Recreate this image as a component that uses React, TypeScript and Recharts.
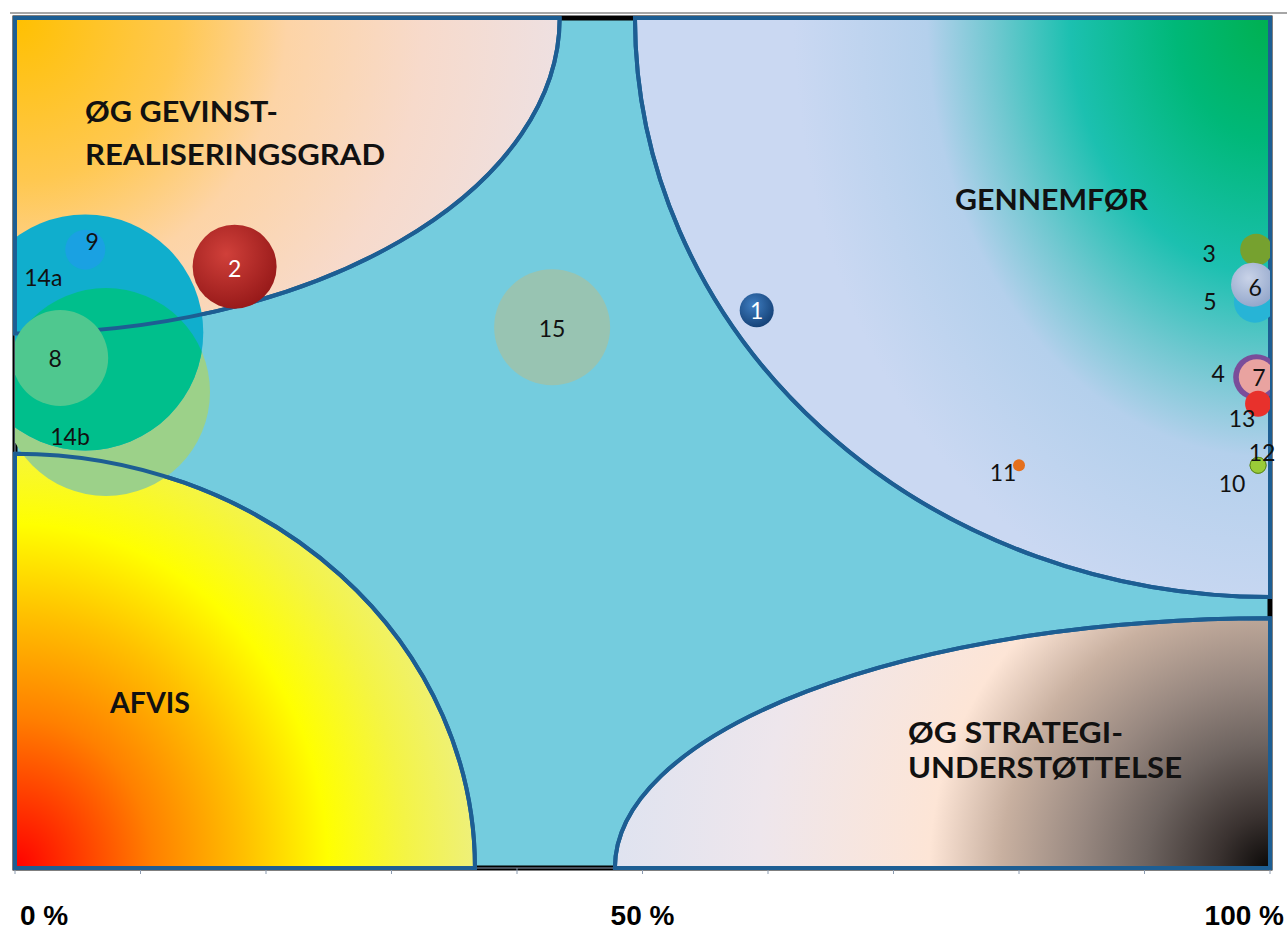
import { ScatterChart, Scatter, XAxis, YAxis, ZAxis, ReferenceArea } from "recharts";

// bubbles: x in %, y on a 0-8 axis, size = bubble area value
const bubbleNames = ["15", "1", "2", "11", "9", "8", "3", "5", "6", "4", "7", "13", "10", "12"];
const bubbleX = [42.8, 59.1, 17.5, 80.0, 5.6, 3.6, 98.9, 98.8, 98.65, 98.9, 98.95, 99.05, 99.05, 99.05];
const bubbleY = [5.09, 5.25, 5.66, 3.79, 5.82, 4.8, 5.82, 5.33, 5.49, 4.62, 4.62, 4.37, 3.79, 3.79];
const bubbleSize = [3364, 289, 1764, 36, 400, 2304, 256, 441, 484, 529, 324, 169, 64, 64];

// the two big overlapping bubbles
const bigNames = ["14b", "14a"];
const bigX = [7.25, 5.6];
const bigY = [4.48, 5.04];
const bigSize = [10816, 13924];

const xTicks = [0, 10, 20, 30, 40, 50, 60, 70, 80, 90, 100];
const xLabels = [0, 50, 100];
const yTicks = [0, 1, 2, 3, 4, 5, 6, 7, 8];

// zones: quarter ellipses in each corner of the plot
const zoneNames = ["tl", "tr", "bl", "br"];
const zoneX1 = [0, 49.4, 0, 47.8];
const zoneX2 = [43.4, 100, 36.65, 100];
const zoneY1 = [5.03, 2.55, 0, 0];
const zoneY2 = [8, 8, 3.9, 2.35];

const rows = bubbleNames.map((name, i) => ({ name, x: bubbleX[i], y: bubbleY[i], z: bubbleSize[i] }));
const bigRows = bigNames.map((name, i) => ({ name, x: bigX[i], y: bigY[i], z: bigSize[i] }));
const row14a = bigRows.filter((r) => r.name === "14a");
const row14b = bigRows.filter((r) => r.name === "14b");

const EDGE = "#1D5E93";

const bubbleFill: Record<string, string> = {
  "1": "url(#b1)",
  "2": "url(#b2)",
  "3": "#76A12F",
  "4": "#7A4D9A",
  "5": "#27B4D6",
  "6": "url(#b6)",
  "7": "#E9A3A0",
  "8": "#4FC88F",
  "9": "#1AA1E2",
  "10": "#9ACB38",
  "11": "#E4701E",
  "12": "#9ACB38",
  "13": "#E8312C",
  "14a": "#10AECD",
  "14b": "#00BF8C",
  "15": "#98C4B2",
};

const labelAt: Record<string, [number, number]> = {
  "1": [0, 0], "2": [0, 1], "3": [-47, 3], "4": [-38, -4], "5": [-45, -1], "6": [2, 2],
  "7": [2, 0], "8": [-5, 0], "9": [7, -9], "10": [-26, 18], "11": [-16, 7], "12": [4, -13],
  "13": [-16, 14], "14a": [-42, -56], "14b": [-36, 44], "15": [0, 1],
};

const gradStops: Record<string, [number, string][]> = {
  tl: [[0, "#FFC000"], [0.3, "#FFC850"], [0.5, "#FDD4A6"], [0.75, "#F7DACB"], [1, "#EEE0E1"]],
  tr: [[0, "#00B050"], [0.2, "#00B878"], [0.42, "#1CC0B0"], [0.58, "#70C8D0"], [0.72, "#B4D0EC"], [1, "#CAD8F2"]],
  bl: [[0, "#FF0000"], [0.3, "#FF8000"], [0.5, "#FFC000"], [0.68, "#FFFF00"], [0.85, "#F4F445"], [1, "#EEF07A"]],
  br: [[0, "#0A0807"], [0.08, "#3A3230"], [0.19, "#6E6460"], [0.29, "#988880"], [0.41, "#C8B0A0"], [0.52, "#FDE5D6"], [0.78, "#EEE6EC"], [1, "#DFE3F0"]],
};
const gradShape: Record<string, [number, number]> = { tl: [1, 1], tr: [0.75, 1.28], bl: [1, 1.1], br: [1, 1] };

const quarterPath = (c: string, x: number, y: number, w: number, h: number) => {
  if (c === "tl") return `M${x},${y} L${x + w},${y} A${w},${h} 0 0 1 ${x},${y + h} Z`;
  if (c === "tr") return `M${x + w},${y} L${x + w},${y + h} A${w},${h} 0 0 1 ${x},${y} Z`;
  if (c === "bl") return `M${x},${y + h} L${x},${y} A${w},${h} 0 0 1 ${x + w},${y + h} Z`;
  return `M${x + w},${y + h} L${x},${y + h} A${w},${h} 0 0 1 ${x + w},${y} Z`;
};

const zoneShape = (c: string, outline: boolean) => (p: any) => {
  const { x, y, width: w, height: h } = p;
  const d = quarterPath(c, x, y, w, h);
  if (outline) return <path d={d} fill="none" stroke={EDGE} strokeWidth={4} strokeLinejoin="round" />;
  const cx = c[1] === "l" ? x : x + w;
  const cy = c[0] === "t" ? y : y + h;
  const [rs, sy] = gradShape[c];
  return (
    <g>
      <defs>
        <radialGradient
          id={`g-${c}`}
          gradientUnits="userSpaceOnUse"
          cx={cx}
          cy={cy}
          r={w * rs}
          gradientTransform={`translate(${cx} ${cy}) scale(1 ${sy}) translate(${-cx} ${-cy})`}
        >
          {gradStops[c].map(([o, col]) => (
            <stop key={o} offset={o} stopColor={col} />
          ))}
        </radialGradient>
      </defs>
      <path d={d} fill={`url(#g-${c})`} stroke={EDGE} strokeWidth={4} />
    </g>
  );
};

const Backdrop = (p: any) => {
  const { x, y, width: w, height: h } = p;
  return (
    <g>
      <defs>
        <clipPath id="plotClip">
          <rect x={x} y={y} width={w} height={h} />
        </clipPath>
        <radialGradient id="b1" cx="0.4" cy="0.35" r="0.7">
          <stop offset="0" stopColor="#3F7EC2" />
          <stop offset="1" stopColor="#133F74" />
        </radialGradient>
        <radialGradient id="b2" cx="0.4" cy="0.35" r="0.7">
          <stop offset="0" stopColor="#D0403A" />
          <stop offset="1" stopColor="#951818" />
        </radialGradient>
        <radialGradient id="b6" cx="0.4" cy="0.35" r="0.7">
          <stop offset="0" stopColor="#C9D3E8" />
          <stop offset="1" stopColor="#91A5CA" />
        </radialGradient>
      </defs>
      <rect x={x} y={y} width={w} height={h} fill="#74CCDE" stroke="#000" strokeWidth={5} />
    </g>
  );
};

const title = { fontFamily: "Lato, 'Open Sans', sans-serif", fontWeight: 700, fontSize: 29, fill: "#111" };

const Titles = (p: any) => {
  const { x, y, width: w, height: h } = p;
  const at = (fx: number, fy: number) => ({ x: x + fx * w, y: y + fy * h });
  return (
    <g>
      <line x1={x - 5} x2={x + w + 17} y1={y - 5} y2={y - 5} stroke="#A6A6A6" strokeWidth={2} />
      <text {...at(0.0558, 0.1224)} {...title} textLength={193} lengthAdjust="spacingAndGlyphs">ØG GEVINST-</text>
      <text {...at(0.0558, 0.1729)} {...title} textLength={300} lengthAdjust="spacingAndGlyphs">REALISERINGSGRAD</text>
      <text {...at(0.749, 0.2259)} {...title} textLength={193} lengthAdjust="spacingAndGlyphs">GENNEMFØR</text>
      <text {...at(0.0757, 0.8176)} {...title} textLength={80} lengthAdjust="spacingAndGlyphs">AFVIS</text>
      <text {...at(0.7116, 0.8529)} {...title} textLength={215} lengthAdjust="spacingAndGlyphs">ØG STRATEGI-</text>
      <text {...at(0.7116, 0.8941)} {...title} textLength={274} lengthAdjust="spacingAndGlyphs">UNDERSTØTTELSE</text>
    </g>
  );
};

const bubble = (mode: "normal" | "under" | "over") => (p: any) => {
  const { cx, cy, payload } = p;
  const r = p.width ? p.width / 2 : Math.sqrt(p.size / Math.PI);
  const name: string = payload.name;
  const [dx, dy] = labelAt[name] || [0, 0];
  const white = name === "1" || name === "2";
  const label = (
    <text
      x={cx + dx}
      y={cy + dy}
      textAnchor="middle"
      dominantBaseline="central"
      fontFamily="Lato, 'Open Sans', sans-serif"
      fontSize={23}
      fill={white ? "#fff" : "#111"}
    >
      {name}
    </text>
  );
  if (mode === "under") {
    return (
      <g clipPath="url(#plotClip)">
        <circle cx={cx} cy={cy} r={r} fill="#9CD189" />
      </g>
    );
  }
  if (mode === "over") {
    return (
      <g>
        <g clipPath="url(#plotClip)">
          <circle cx={cx} cy={cy} r={r} fill={bubbleFill[name]} clipPath="url(#clip14a)" />
        </g>
        {label}
      </g>
    );
  }
  return (
    <g>
      {name === "14a" && (
        <defs>
          <clipPath id="clip14a">
            <circle cx={cx} cy={cy} r={r} />
          </clipPath>
        </defs>
      )}
      <g clipPath="url(#plotClip)">
        <circle
          cx={cx}
          cy={cy}
          r={r}
          fill={bubbleFill[name]}
          stroke={name === "10" || name === "12" ? "#5E8A1E" : "none"}
          strokeWidth={1}
        />
      </g>
      {label}
    </g>
  );
};

const XTick = (p: any) => {
  const { x, y, payload } = p;
  const v = payload.value;
  if (!xLabels.includes(v)) return <g />;
  const anchor = v === 0 ? "start" : v === 100 ? "end" : "middle";
  const dx = v === 0 ? 5 : v === 100 ? 14 : 0;
  return (
    <text
      x={x + dx}
      y={y + 49}
      textAnchor={anchor}
      fontFamily="'Liberation Sans', Arial, sans-serif"
      fontWeight={700}
      fontSize={28}
      fill="#000"
    >
      {v} %
    </text>
  );
};

export default function App() {
  return (
    <div style={{ position: "absolute", left: 0, top: 0, width: 1287, height: 932, background: "#fff" }}>
      <ScatterChart width={1287} height={932} margin={{ top: 18, right: 17, left: 7, bottom: 14 }}>
        <XAxis
          type="number"
          dataKey="x"
          domain={[0, 100]}
          ticks={xTicks}
          interval={0}
          height={50}
          tickSize={6}
          stroke="#8B9BB0"
          tick={<XTick />}
        />
        <YAxis type="number" dataKey="y" domain={[0, 8]} ticks={yTicks} width={8} tick={false} tickSize={5} stroke="#8B9BB0" />
        <ZAxis type="number" dataKey="z" domain={[0, 14000]} range={[0, 14000 * Math.PI]} />

        <ReferenceArea x1={0} x2={100} y1={0} y2={8} ifOverflow="visible" shape={Backdrop} />
        {zoneNames.map((c, i) => (
          <ReferenceArea
            key={c}
            x1={zoneX1[i]}
            x2={zoneX2[i]}
            y1={zoneY1[i]}
            y2={zoneY2[i]}
            ifOverflow="visible"
            shape={zoneShape(c, false)}
          />
        ))}

        <Scatter data={row14b} shape={bubble("under")} isAnimationActive={false} />
        <Scatter data={row14a} shape={bubble("normal")} isAnimationActive={false} />
        <Scatter data={row14b} shape={bubble("over")} isAnimationActive={false} />

        {zoneNames.map((c, i) => (
          <ReferenceArea
            key={`o-${c}`}
            x1={zoneX1[i]}
            x2={zoneX2[i]}
            y1={zoneY1[i]}
            y2={zoneY2[i]}
            ifOverflow="visible"
            zIndex={610}
            shape={zoneShape(c, true)}
          />
        ))}
        <ReferenceArea x1={0} x2={100} y1={0} y2={8} ifOverflow="visible" zIndex={610} shape={Titles} />

        <Scatter data={rows} shape={bubble("normal")} isAnimationActive={false} zIndex={620} />
      </ScatterChart>
    </div>
  );
}
